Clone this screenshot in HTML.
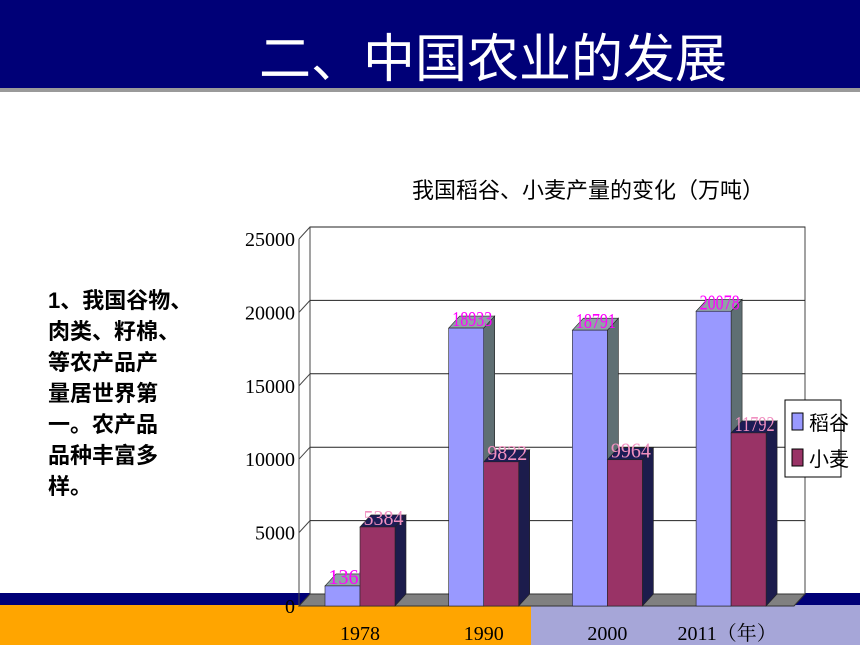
<!DOCTYPE html>
<html><head><meta charset="utf-8"><style>
html,body{margin:0;padding:0;width:860px;height:645px;overflow:hidden;background:#fff}
svg{display:block;font-family:"Liberation Serif","Noto Serif CJK SC",serif}
.cjk{font-family:"Liberation Sans","Noto Sans CJK SC",sans-serif}
</style></head><body>
<svg width="860" height="645" viewBox="0 0 860 645">
<rect x="0" y="0" width="860" height="88" fill="#000077"/>
<rect x="0" y="88" width="860" height="4" fill="#9a9a9a"/>
<text x="493" y="77" text-anchor="middle" class="cjk" font-size="52" fill="#fff">二、中国农业的发展</text>
<text x="588" y="198" text-anchor="middle" class="cjk" font-size="22" fill="#000">我国稻谷、小麦产量的变化（万吨）</text>
<g class="cjk" font-size="22" font-weight="bold" fill="#000">
<text x="48" y="308">1、我国谷物、</text><text x="48" y="339">肉类、籽棉、</text><text x="48" y="370">等农产品产</text><text x="48" y="401">量居世界第</text><text x="48" y="432">一。农产品</text><text x="48" y="463">品种丰富多</text><text x="48" y="494">样。</text>
</g>
<rect x="0" y="593" width="860" height="12" fill="#000077"/>
<rect x="0" y="605" width="531" height="40" fill="#ffa500"/>
<rect x="531" y="605" width="329" height="40" fill="#a6a6d8"/>
<g id="chart"></g>
</svg>
<script>
const categories=["1978","1990","2000","2011（年）"];
const riceValues=[1369,18933,18791,20078];
const wheatValues=[5384,9822,9964,11792];
const tickValues=[0,5000,10000,15000,20000,25000];
const seriesNames=["稻谷","小麦"];
const NS="http://www.w3.org/2000/svg";
const g=document.getElementById("chart");
const DX=11,DY=12,FB=606,X0=299,X1=794,VMAX=25000,H=367;
function yF(v){return FB-v/VMAX*H;}
function xC(i){return 360+i*123.7;}
function mk(t,a,p){const e=document.createElementNS(NS,t);for(const k in a)e.setAttribute(k,a[k]);(p||g).appendChild(e);return e;}
// back wall & gridlines
let w=mk("rect",{x:X0+DX,y:yF(VMAX)-DY,width:X1-X0,height:H,fill:"#fff",stroke:"#444","stroke-width":1});


tickValues.forEach(v=>{
 if(v>0){let l=mk("line",{x1:X0+DX,x2:X1+DX,y1:yF(v)-DY,y2:yF(v)-DY,stroke:"#222","stroke-width":1});
 
 
 let d=mk("line",{x1:X0,y1:yF(v),x2:X0+DX,y2:yF(v)-DY,stroke:"#444","stroke-width":1});
 
 }
 let t=mk("text",{x:X0-4,y:yF(v)+7,"text-anchor":"end","font-size":20,fill:"#000",transform:""});
 t.textContent=v;
 
 
});
let ax=mk("line",{x1:X0,y1:yF(0),x2:X0,y2:yF(VMAX),stroke:"#444"});


// floor
let fl=mk("polygon",{points:`${X0},${FB} ${X1},${FB} ${X1+DX},${FB-DY} ${X0+DX},${FB-DY}`,fill:"#808080",stroke:"#333"});


const BW=35;
function bar(x,v,front,top,side,lab,labCol,name){
 const y=yF(v);
 let s=mk("polygon",{points:`${x+BW},${y} ${x+BW+DX},${y-DY} ${x+BW+DX},${FB-DY} ${x+BW},${FB}`,fill:side,stroke:"#222","stroke-width":0.6});
 
 
 let t=mk("polygon",{points:`${x},${y} ${x+DX},${y-DY} ${x+BW+DX},${y-DY} ${x+BW},${y}`,fill:top,stroke:"#222","stroke-width":0.6});
 
 
 let r=mk("rect",{x:x,y:y,width:BW,height:FB-y,fill:front,stroke:"#222","stroke-width":0.6});
 
 
 let l=mk("text",{x:x+BW/2+6,y:y-2,"text-anchor":"middle","font-size":21,fill:labCol,"textLength":40,"lengthAdjust":"spacingAndGlyphs"});
 l.textContent=lab;
 
 
}
categories.forEach((c,i)=>{
 const xc=xC(i);
 bar(xc-BW,riceValues[i],"#9999ff","#8fa3a6","#5f6f73",riceValues[i],"#ff00ff","bar-rice-"+i);
 bar(xc,wheatValues[i],"#993366","#1c1c55","#1c1c4c",wheatValues[i],"#f090c0","bar-wheat-"+i);
 let t=mk("text",{x:xc+(i==3?-4:0),y:640,"text-anchor":"middle","font-size":20,fill:"#000"});
 t.textContent=c;
 
 
});
// legend
let lg=mk("g",{});


mk("rect",{x:785,y:400,width:56,height:77,fill:"#fff",stroke:"#000"},lg);
const lc=["#9999ff","#993366"];
seriesNames.forEach((n,i)=>{
 let e=mk("g",{},lg);
 
 
 mk("rect",{x:792,y:413+i*36,width:11,height:17,fill:lc[i],stroke:"#000"},e);
 let t=mk("text",{x:809,y:430+i*36,"font-size":20,fill:"#000",class:"cjk"},e);
 t.textContent=n;
});
</script>
</body></html>
